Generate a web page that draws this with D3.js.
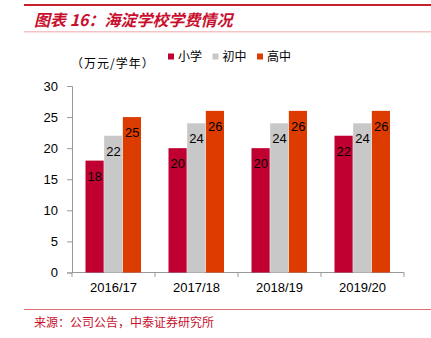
<!DOCTYPE html>
<html><head><meta charset="utf-8">
<script src="https://cdn.jsdelivr.net/npm/d3@7"></script>
<style>body{margin:0;background:#fff;}svg{display:block;}</style>
</head><body>
<svg id="c" width="431" height="338"></svg>
<script>
const categories = ["2016/17","2017/18","2018/19","2019/20"];
const seriesNames = ["小学","初中","高中"];
const primary = [18,20,20,22];
const middle = [22,24,24,24];
const high = [25,26,26,26];
const yTicks = [0,5,10,15,20,25,30];
const colors = ["#c00030","#c8c8c8","#dc3c00"];
const seriesValues = [primary, middle, high];

const svg = d3.select("#c");
const font = "'Liberation Sans', Arial, sans-serif";
const cjk = "'Noto Sans CJK SC', sans-serif";

// header lines
svg.append("rect").attr("x",24).attr("y",4).attr("width",407).attr("height",2).attr("fill","#c8202a");
svg.append("rect").attr("x",24).attr("y",31).attr("width",407).attr("height",1.5).attr("fill","#f2c4c4");
svg.append("text").attr("x",34).attr("y",26).attr("fill","#c8102e")
  .attr("font-family",cjk).attr("font-size",16).attr("font-weight","bold").attr("font-style","italic")
  .text("图表 16：海淀学校学费情况");

const x0 = d3.scaleBand().domain(categories).range([72,404]);
const x1 = d3.scaleBand().domain(seriesNames).range([0,56]);
const y = d3.scaleLinear().domain([0,30]).range([272.5,86]);

// axes
const yAxis = svg.append("g").attr("transform","translate(72,0)")
  .call(d3.axisLeft(y).tickValues(yTicks).tickSize(5).tickPadding(9));
yAxis.selectAll("text").attr("font-family",font).attr("font-size",13).attr("fill","#000");
yAxis.selectAll("line,path").attr("stroke","#999");

const xAxis = svg.append("g").attr("transform","translate(0,272.5)")
  .call(d3.axisBottom(x0).tickSize(0).tickPadding(10));
xAxis.selectAll("text").attr("font-family",font).attr("font-size",13).attr("fill","#000");
xAxis.select("path").attr("stroke","#999").attr("d","M72,0H404");
// boundary ticks
svg.append("g").selectAll("line").data(categories.concat(["_end"])).join("line")
  .attr("x1",(d,i)=> i<categories.length ? x0(d) : 404)
  .attr("x2",(d,i)=> i<categories.length ? x0(d) : 404)
  .attr("y1",272.5).attr("y2",277).attr("stroke","#999");

// bars
const off = (x0.bandwidth()-56)/2;
seriesNames.forEach((s,si)=>{
  const g = svg.append("g");
  g.selectAll("rect").data(seriesValues[si]).join("rect")
    .attr("x",(d,i)=>x0(categories[i])+off+x1(s))
    .attr("y",d=>y(d))
    .attr("width",x1.bandwidth()-0.5)
    .attr("height",d=>y(0)-y(d))
    .attr("fill",colors[si]);
  g.selectAll("text").data(seriesValues[si]).join("text")
    .attr("x",(d,i)=>x0(categories[i])+off+x1(s)+x1.bandwidth()/2)
    .attr("y",d=>y(d)+20)
    .attr("text-anchor","middle")
    .attr("font-family",font).attr("font-size",13).attr("fill","#000")
    .text(d=>d);
});

// unit label
svg.append("text").attr("x",71).attr("y",68).attr("font-family",cjk).attr("font-size",12)
  .attr("letter-spacing",1).attr("fill","#000")
  .text("（万元/学年）");

// legend
const legX = [168,212.5,257];
seriesNames.forEach((s,i)=>{
  svg.append("rect").attr("x",legX[i]).attr("y",53.5).attr("width",6).attr("height",6).attr("fill",colors[i]);
  svg.append("text").attr("x",legX[i]+10).attr("y",61).attr("font-family",cjk).attr("font-size",12).attr("fill","#000").text(s);
});

// footer
svg.append("rect").attr("x",24).attr("y",309).attr("width",407).attr("height",1).attr("fill","#e07070");
svg.append("text").attr("x",34).attr("y",327).attr("font-family",cjk).attr("font-size",12).attr("fill","#c8102e")
  .text("来源：公司公告，中泰证券研究所");
</script>
</body></html>
